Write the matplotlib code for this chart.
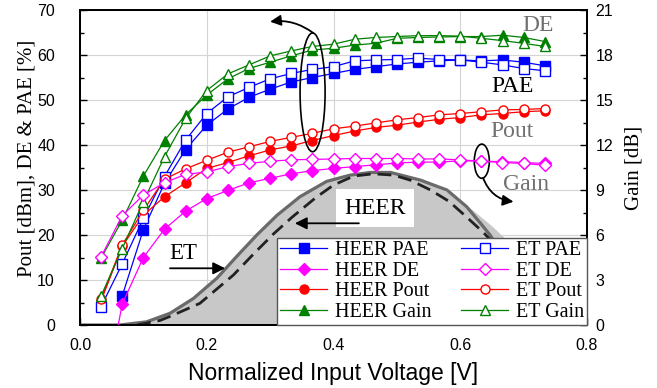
import numpy as np
import matplotlib
matplotlib.use('Agg')
import matplotlib.pyplot as plt
from matplotlib.patches import Ellipse, FancyArrowPatch
from matplotlib.ticker import MultipleLocator, FormatStrFormatter

# input voltage points (k/30, k = 1..22)
v_in = [1/30, 2/30, 3/30, 4/30, 5/30, 6/30, 7/30, 8/30, 9/30, 10/30, 11/30,
        12/30, 13/30, 14/30, 15/30, 16/30, 17/30, 18/30, 19/30, 20/30, 21/30, 22/30]

# left axis series [%] / [dBm]
heer_pae = [np.nan, 6.5, 21.2, 31.5, 39.0, 44.4, 48.0, 50.6, 52.4, 54.0, 55.0,
            55.9, 56.8, 57.4, 58.0, 58.4, 58.7, 58.9, 58.7, 58.9, 58.4, 57.6]
et_pae = [4.1, 13.6, 23.7, 33.0, 41.1, 47.0, 50.7, 52.8, 54.7, 55.9, 56.8,
          57.4, 58.7, 58.9, 59.0, 59.3, 59.0, 58.9, 58.4, 57.8, 57.0, 56.5]
heer_pout = [5.4, 17.5, 24.4, 28.5, 31.6, 34.8, 36.1, 37.6, 38.9, 39.8, 41.0,
             42.1, 43.1, 43.9, 44.4, 45.1, 45.7, 46.1, 46.7, 47.0, 47.4, 47.6]
et_pout = [5.8, 17.8, 25.5, 32.4, 34.7, 36.6, 38.4, 39.6, 40.8, 41.7, 42.6,
           43.6, 44.2, 44.9, 45.6, 46.1, 46.7, 47.0, 47.4, 47.8, 47.9, 48.1]
heer_gain = [14.9, 23.3, 33.1, 41.0, 46.7, 51.1, 54.7, 57.0, 58.4, 59.8, 61.1,
             61.5, 62.2, 62.6, 63.7, 63.9, 64.0, 64.1, 64.1, 64.4, 63.9, 63.0]
et_gain = [6.5, 17.0, 27.4, 37.4, 45.9, 52.1, 55.8, 57.8, 59.8, 60.9, 61.9,
           62.4, 63.5, 63.9, 64.1, 64.3, 64.3, 64.2, 63.7, 63.2, 62.6, 61.9]

# right axis series [dB]
heer_de = [-6.0, 1.41, 4.5, 6.39, 7.59, 8.43, 8.97, 9.48, 9.78, 10.08, 10.29,
           10.44, 10.56, 10.68, 10.8, 10.86, 10.86, 10.95, 10.92, 10.89, 10.83, 10.77]
et_de = [4.56, 7.29, 8.67, 9.48, 10.05, 10.2, 10.56, 10.77, 10.92, 11.01, 11.04,
         11.07, 11.1, 11.1, 11.1, 11.07, 11.07, 11.01, 10.92, 10.83, 10.77, 10.65]

# envelope distributions (background, left axis units)
et_pdf_x = [0.0, 0.063, 0.105, 0.142, 0.179, 0.216, 0.247, 0.279, 0.311, 0.347,
            0.389, 0.426, 0.458, 0.49, 0.537, 0.579, 0.61, 0.632, 0.647, 0.67, 0.70, 0.75]
et_pdf_y = [0.0, 0.0, 0.7, 2.6, 5.9, 10.4, 15.2, 20.0, 24.4, 28.5,
            31.9, 33.3, 33.9, 33.9, 32.2, 30.0, 26.3, 22.6, 20.0, 15.0, 8.0, 0.0]
heer_pdf_x = [0.09, 0.126, 0.142, 0.189, 0.242, 0.274, 0.305, 0.335, 0.372, 0.40,
              0.432, 0.463, 0.495, 0.521, 0.553, 0.582, 0.61, 0.637, 0.66, 0.69]
heer_pdf_y = [0.0, 1.0, 1.9, 4.8, 11.1, 15.8, 20.2, 24.0, 28.3, 31.1,
              33.1, 33.6, 33.3, 32.2, 30.0, 27.5, 24.0, 20.5, 17.0, 11.0]
fill_x = [0.0, 0.063, 0.105, 0.142, 0.179, 0.216, 0.247, 0.279, 0.311, 0.347,
          0.389, 0.426, 0.458, 0.49, 0.50, 0.54, 0.58, 0.62, 0.65, 0.668, 0.70, 0.75, 0.80]
fill_y = [0.0, 0.0, 0.7, 2.6, 5.9, 10.4, 15.2, 20.0, 24.4, 28.5,
          31.9, 33.3, 33.9, 33.9, 33.8, 32.5, 29.5, 25.5, 22.0, 19.6, 14.0, 6.0, 1.0]

serif = 'Liberation Serif'
sans = 'Liberation Sans'

fig = plt.figure(figsize=(6.57, 3.88), dpi=100)
ax = fig.add_axes([80/657, 63/388, 507/657, 315/388])
ax2 = ax.twinx()

ax.fill_between(fill_x, fill_y, 0, color='#c8c8c8', lw=0, zorder=1)
ax.plot(et_pdf_x, et_pdf_y, color='#6a6a6a', lw=2.3, zorder=2)
ax.plot(heer_pdf_x, heer_pdf_y, color='#222222', lw=2.0, dashes=(5, 2.5), zorder=2)

mk = dict(lw=0.9, ms=6.5, markeredgewidth=1.0)
h_pae, = ax.plot(v_in, heer_pae, 's-', color='blue', label='HEER PAE', zorder=4, **mk)
h_pout, = ax.plot(v_in, heer_pout, 'o-', color='red', label='HEER Pout', zorder=4, **mk)
h_gain, = ax.plot(v_in, heer_gain, '^-', color='green', label='HEER Gain', zorder=4, **mk)
e_pae, = ax.plot(v_in, et_pae, 's-', color='blue', mfc='white', label='ET PAE', zorder=5, **mk)
e_pout, = ax.plot(v_in, et_pout, 'o-', color='red', mfc='white', label='ET Pout', zorder=5, **mk)
e_gain, = ax.plot(v_in, et_gain, '^-', color='green', mfc='white', label='ET Gain', zorder=5, **mk)
h_de, = ax2.plot(v_in, heer_de, 'D-', color='magenta', label='HEER DE', zorder=4, **mk)
e_de, = ax2.plot(v_in, et_de, 'D-', color='magenta', mfc='white', label='ET DE', zorder=5, **mk)

ax.set_xlim(0, 0.8)
ax.set_ylim(0, 70)
ax2.set_ylim(0, 21)
ax.xaxis.set_major_locator(MultipleLocator(0.2))
ax.xaxis.set_minor_locator(MultipleLocator(0.1))
ax.xaxis.set_major_formatter(FormatStrFormatter('%.1f'))
ax.yaxis.set_major_locator(MultipleLocator(10))
ax.yaxis.set_minor_locator(MultipleLocator(5))
ax2.yaxis.set_major_locator(MultipleLocator(3))
ax2.yaxis.set_minor_locator(MultipleLocator(1.5))
ax.grid(True, color='#d4d4d4', lw=0.8, zorder=0)
ax.set_axisbelow(True)

for a in (ax, ax2):
    a.tick_params(which='both', direction='in', labelsize=11.5, width=1.0)
    a.tick_params(which='major', length=5)
    a.tick_params(which='minor', length=3)
    for lab in a.get_xticklabels() + a.get_yticklabels():
        lab.set_fontfamily(sans)
    for s in a.spines.values():
        s.set_linewidth(1.3)
ax.tick_params(axis='x', pad=9)
ax.tick_params(axis='y', pad=18)
ax2.tick_params(axis='y', pad=6)

ax.set_xlabel('Normalized Input Voltage [V]', fontfamily=sans, fontsize=16.5, labelpad=7)
ax.set_ylabel('Pout [dBm], DE & PAE [%]', fontfamily=serif, fontsize=15)
ax.yaxis.set_label_coords(-0.085, 0.53)
ax2.set_ylabel('Gain [dB]', fontfamily=serif, fontsize=15, labelpad=8)

# annotations
ax.text(0.723, 65.3, 'DE', fontfamily=serif, fontsize=17, color='#707070', ha='center', va='baseline')
ax.text(0.682, 51.8, 'PAE', fontfamily=serif, fontsize=17, color='black', ha='center', va='baseline')
ax.text(0.681, 41.8, 'Pout', fontfamily=serif, fontsize=17, color='#707070', ha='center', va='baseline')
ax.text(0.704, 30.0, 'Gain', fontfamily=serif, fontsize=17, color='#707070', ha='center', va='baseline')

ax.add_patch(Ellipse((0.367, 51.7), 0.0395, 26.4, fill=False, ec='black', lw=1.2, zorder=6))
ax.add_patch(Ellipse((0.634, 36.4), 0.0237, 7.6, fill=False, ec='black', lw=1.2, zorder=6))
ax.add_patch(FancyArrowPatch((0.368, 64.9), (0.30, 67.4), arrowstyle='-|>', color='black',
                             lw=1.3, mutation_scale=16, shrinkA=0, shrinkB=0,
                             connectionstyle='arc3,rad=0.2', zorder=6))
ax.add_patch(FancyArrowPatch((0.636, 32.7), (0.684, 27.4), arrowstyle='-|>', color='black',
                             lw=1.3, mutation_scale=16, shrinkA=0, shrinkB=0,
                             connectionstyle='arc3,rad=0.3', zorder=6))

ax.text(0.163, 15.8, 'ET', fontfamily=serif, fontsize=16.5, ha='center', va='center', zorder=6)
ax.add_patch(FancyArrowPatch((0.142, 12.6), (0.229, 12.6), arrowstyle='-|>', color='black',
                             lw=1.3, mutation_scale=18, shrinkA=0, shrinkB=0, zorder=6))
ax.text(0.466, 26.0, 'HEER', fontfamily=serif, fontsize=17, ha='center', va='center', zorder=6,
        bbox=dict(facecolor='white', edgecolor='none', boxstyle='square,pad=0.35'))
ax.add_patch(FancyArrowPatch((0.44, 22.6), (0.339, 22.6), arrowstyle='-|>', color='black',
                             lw=1.3, mutation_scale=18, shrinkA=0, shrinkB=0, zorder=6))

handles = [h_pae, h_de, h_pout, h_gain, e_pae, e_de, e_pout, e_gain]
leg = ax2.legend(handles=handles, ncol=2, loc='lower right', bbox_to_anchor=(1, 0),
                 borderaxespad=0, fancybox=False, framealpha=1, edgecolor='#555555',
                 prop={'family': serif, 'size': 14.5}, labelspacing=0.08,
                 handlelength=2.3, handletextpad=0.4, columnspacing=1.5, borderpad=0.15)
leg.get_frame().set_linewidth(1.0)
leg.set_zorder(10)

fig.savefig('out.png', dpi=100)
